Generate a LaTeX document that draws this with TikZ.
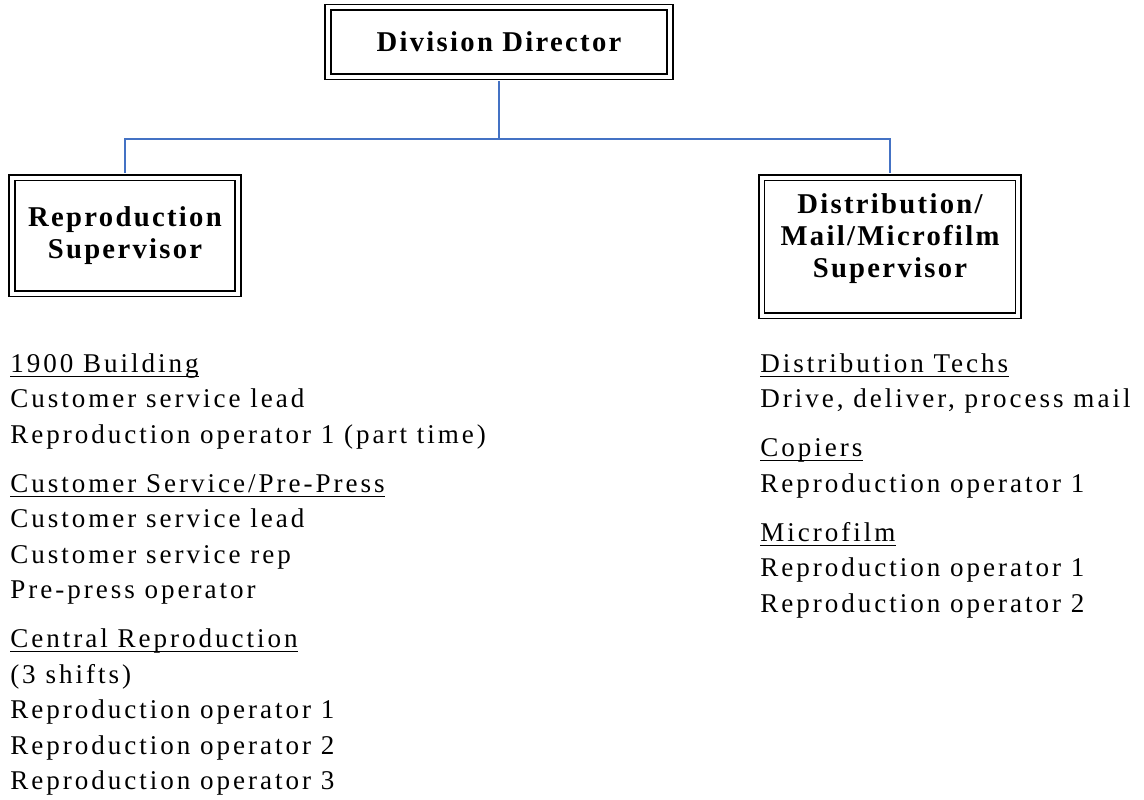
\documentclass[tikz,border=0pt]{standalone}
\usepackage{fontspec}
\setmainfont{Liberation Serif}
\newfontfamily\bodyf[LetterSpace=11]{Liberation Serif}
\newfontfamily\boxf[LetterSpace=8]{Liberation Serif}
\definecolor{linkblue}{HTML}{4472C4}
\begin{document}
\begin{tikzpicture}[x=0.75pt,y=-0.75pt,
  box/.style={draw=black, line width=1.3pt, double=white, double distance=3pt,
    align=center, inner sep=0pt, font=\boxf\bfseries\fontsize{21.5}{23.8}\selectfont},
  boxtext/.style={align=center, inner sep=0pt, font=\boxf\bfseries\fontsize{21.5}{23.8}\selectfont},
  link/.style={draw=linkblue, line width=1.5pt},
  ln/.style={anchor=base west, inner sep=0pt, font=\bodyf\fontsize{20.3}{26.6}\selectfont},
  hdr/.style={ln, append after command={([yshift=-3.2pt]\tikzlastnode.base west) edge[draw=black, line width=0.9pt] ([yshift=-3.2pt]\tikzlastnode.base east)}}
]
\useasboundingbox (0,0) rectangle (1144,799);

% boxes
\node[box, minimum width=256.5pt, minimum height=51.75pt] (dd) at (499,42) {Division Director};
\node[box, minimum width=169.5pt, minimum height=87pt] (rs) at (125,235.5) {Reproduction\\Supervisor};
\node[box, minimum width=192.4pt, minimum height=103.5pt] (ds) at (890,246.5) {};
\node[boxtext] (dst) at (890,238.5) {Distribution/\\Mail/Microfilm\\Supervisor};

% connectors
\coordinate (bus) at (499,139);
\draw[link, shorten <=2.8pt] (dd.south) -- (bus);
\draw[link, shorten >=2.8pt] (bus) -| (rs.north);
\draw[link, shorten >=2.8pt] (bus) -| (ds.north);

% left column
\node[hdr] (l1) at (10,372) {1900 Building};
\node[ln] (l2) at (10,407.5) {Customer service lead};
\node[ln] (l3) at (10,443) {Reproduction operator 1 (part time)};
\node[hdr] (l4) at (10,492) {Customer Service/Pre-Press};
\node[ln] (l5) at (10,527.5) {Customer service lead};
\node[ln] (l6) at (10,563) {Customer service rep};
\node[ln] (l7) at (10,598.5) {Pre-press operator};
\node[hdr] (l8) at (10,647.5) {Central Reproduction};
\node[ln] (l9) at (10,683) {(3 shifts)};
\node[ln] (l10) at (10,718.5) {Reproduction operator 1};
\node[ln] (l11) at (10,754) {Reproduction operator 2};
\node[ln] (l12) at (10,789.5) {Reproduction operator 3};

% right column
\node[hdr] (r1) at (760,372) {Distribution Techs};
\node[ln] (r2) at (760,407.5) {Drive, deliver, process mail};
\node[hdr] (r3) at (760,456.5) {Copiers};
\node[ln] (r4) at (760,492) {Reproduction operator 1};
\node[hdr] (r5) at (760,541) {Microfilm};
\node[ln] (r6) at (760,576.5) {Reproduction operator 1};
\node[ln] (r7) at (760,612) {Reproduction operator 2};
\end{tikzpicture}
\end{document}
